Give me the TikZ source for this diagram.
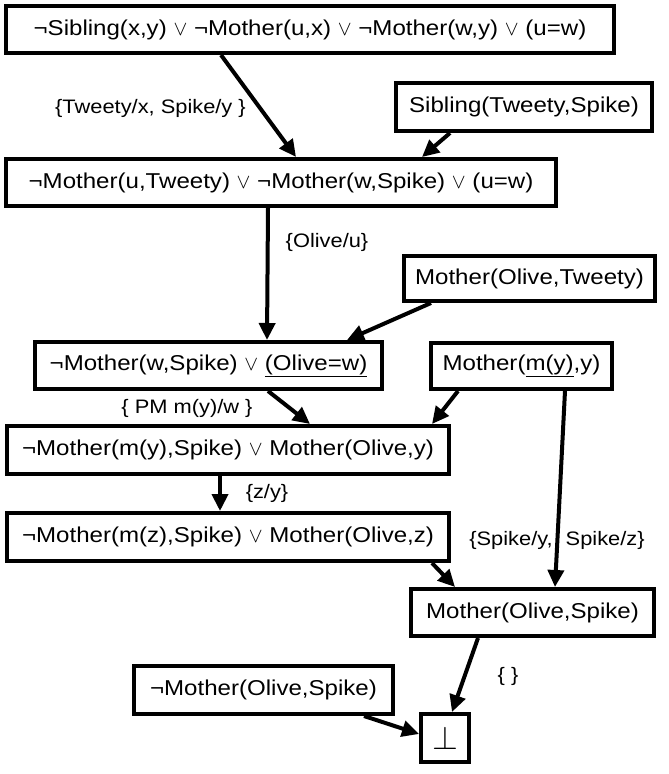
\documentclass[tikz,border=0pt]{standalone}
\usepackage{fontspec}
\setmainfont[FakeStretch=1.12]{Liberation Sans}
\usetikzlibrary{arrows.meta}
\newcommand{\myor}{ $\vee$ }
\begin{document}
\begin{tikzpicture}[x=1pt,y=-1pt,
  box/.style={draw, line width=4pt, inner sep=0pt, align=center, font=\fontsize{21.5}{26}\selectfont},
  lab/.style={inner sep=0pt, font=\fontsize{19.5}{23}\selectfont},
  arr/.style={line width=4pt, -{Triangle[length=17pt,width=16pt]}}]
\useasboundingbox (0,0) rectangle (669,774);
\node[box, minimum width=608, minimum height=47] (b1) at (310,29.5) {¬Sibling(x,y)\myor¬Mother(u,x)\myor¬Mother(w,y)\myor(u=w)};
\node[box, minimum width=256, minimum height=48] (sib) at (524,107) {Sibling(Tweety,Spike)};
\node[box, minimum width=550, minimum height=47] (b2) at (281,182.5) {¬Mother(u,Tweety)\myor¬Mother(w,Spike)\myor(u=w)};
\node[box, minimum width=251, minimum height=45] (mot) at (529.5,278.5) {Mother(Olive,Tweety)};
\node[box, minimum width=347, minimum height=47] (b3) at (208.5,365.5) {¬Mother(w,Spike)\myor\underline{(Olive=w)}};
\node[box, minimum width=181, minimum height=46] (mm) at (521.5,366) {Mother(\underline{m(y)},y)};
\node[box, minimum width=442, minimum height=48] (b4) at (228,450) {¬Mother(m(y),Spike)\myor Mother(Olive,y)};
\node[box, minimum width=442, minimum height=48] (b5) at (228,537) {¬Mother(m(z),Spike)\myor Mother(Olive,z)};
\node[box, minimum width=243, minimum height=47] (mos) at (532.5,612.5) {Mother(Olive,Spike)};
\node[box, minimum width=259, minimum height=48] (nmos) at (263.5,690) {¬Mother(Olive,Spike)};
\node[box, minimum width=48, minimum height=48, text depth=0pt] (bot) at (445,738) {\scalebox{1.6}{$\perp$}};

\node[lab, anchor=west] (l1) at (55,108) {\{Tweety/x, Spike/y \}};
\node[lab] (l2) at (327,242) {\{Olive/u\}};
\node[lab] (l3) at (187,408) {\{ PM m(y)/w \}};
\node[lab] (l4) at (267,493) {\{z/y\}};
\node[lab] (l5) at (557,540) {\{Spike/y,\hspace{13pt}Spike/z\}};
\node[lab] (l6) at (508,676) {\{ \}};

\draw[arr] ([xshift=-89pt]b1.south) -- ([xshift=15pt]b2.north);
\draw[arr] ([xshift=-74pt]sib.south) -- ([xshift=141pt]b2.north);
\draw[arr] ([xshift=-13pt]b2.south) -- ([xshift=58.5pt]b3.north);
\draw[arr] ([xshift=-98.5pt]mot.south) -- ([xshift=138.5pt]b3.north);
\draw[arr] ([xshift=59.5pt]b3.south) -- ([xshift=82pt]b4.north);
\draw[arr] ([xshift=-63.5pt]mm.south) -- ([xshift=204pt]b4.north);
\draw[arr] ([xshift=-8pt]b4.south) -- ([xshift=-8pt]b5.north);
\draw[arr] ([xshift=43.5pt]mm.south) -- ([xshift=22.5pt]mos.north);
\draw[arr] ([xshift=204pt]b5.south) -- ([xshift=-77.5pt]mos.north);
\draw[arr] ([xshift=-54.5pt]mos.south) -- ([xshift=7pt]bot.north);
\draw[arr] ([xshift=100.5pt]nmos.south) -- ([yshift=4pt]bot.west);
\end{tikzpicture}
\end{document}
